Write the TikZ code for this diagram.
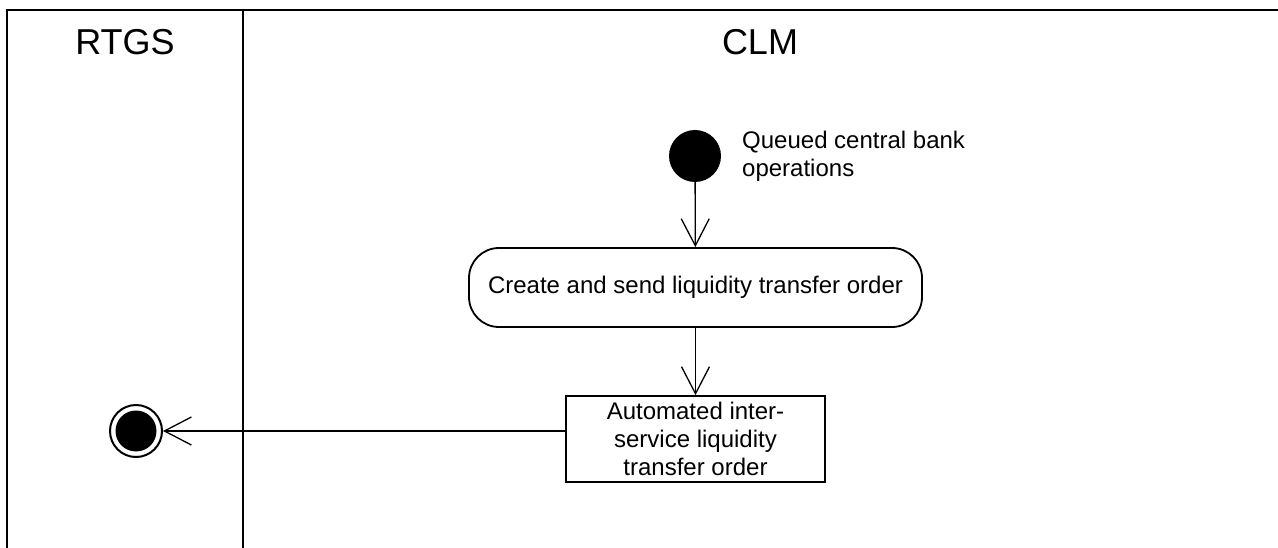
\documentclass[tikz,border=0pt]{standalone}
\usepackage{fontspec}
\setmainfont{Liberation Sans}
\usetikzlibrary{arrows.meta}
\begin{document}
\begin{tikzpicture}[x=1pt,y=-1pt,
  lane/.style={line width=2pt},
  lanetitle/.style={font=\fontsize{36}{40}\selectfont, inner sep=0pt},
  lbl/.style={font=\fontsize{24}{28}\selectfont, inner sep=0pt},
  conn/.style={line width=1.3pt, -{Straight Barb[length=27pt,width=28pt,line width=1.3pt]}},
  actbox/.style={draw, line width=1.8pt, rounded corners=30pt, font=\fontsize{24}{28}\selectfont},
  objbox/.style={draw, line width=1.8pt, align=center, font=\fontsize{24}{28}\selectfont},
  initnode/.style={circle, fill, minimum size=52pt, inner sep=0pt},
  finnode/.style={circle, draw, line width=2pt, minimum size=52pt, inner sep=0pt},
  findot/.style={circle, fill, minimum size=41pt, inner sep=0pt}]
\useasboundingbox (0,0) rectangle (1278,548);
% swimlanes
\draw[lane] (7,548) -- (7,10) -- (1278,10);
\draw[lane] (243,10) -- (243,548);
\node[lanetitle, anchor=base] (rtgs) at (125,55) {RTGS};
\node[lanetitle, anchor=base] (clm) at (760,55) {CLM};
% nodes
\node[initnode] (init) at (695,156) {};
\node[lbl, anchor=west, align=left] (q) at (742,156) {Queued central bank\\operations};
\node[actbox, minimum width=453pt, minimum height=79pt] (act) at (695.5,287.5) {Create and send liquidity transfer order};
\node[objbox, minimum width=259pt, minimum height=86pt] (lto) at (695.5,439) {Automated inter-\\service liquidity\\transfer order};
\node[finnode] (fin) at (136,431) {};
\node[findot] (findot) at (fin.center) {};
% connectors
\draw[conn] (init) -- (act);
\draw[conn] (act) -- (lto);
\draw[conn] (lto.west |- fin) -- (fin);
\end{tikzpicture}
\end{document}
